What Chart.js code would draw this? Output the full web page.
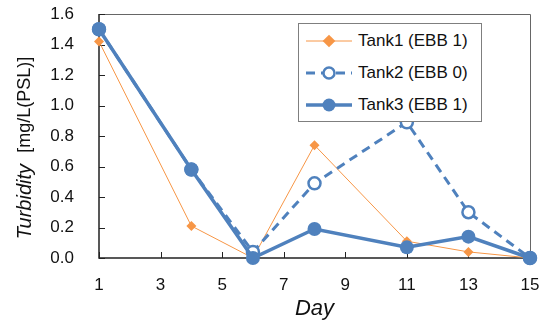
<!DOCTYPE html>
<html>
<head>
<meta charset="utf-8">
<script src="https://cdn.jsdelivr.net/npm/chart.js@4.4.1/dist/chart.umd.min.js"></script>
<style>
  body { margin: 0; background: #fff; }
  #wrap { position: relative; width: 544px; height: 322px; }
  #legend {
    position: absolute; left: 298px; top: 23px; width: 182px; height: 97px;
    border: 1px solid #7f7f7f; background: #fff;
    font-family: "Liberation Sans", sans-serif; font-size: 17px; color: #111;
  }
  .row { position: absolute; left: 6px; height: 24px; display: flex; align-items: center; white-space: nowrap; }
  .row svg { margin-right: 5px; }
</style>
</head>
<body>
<div id="wrap">
  <canvas id="turbidityChart" width="544" height="322"></canvas>
  <div id="legend"></div>
</div>
<script>
const days = [1, 4, 6, 8, 11, 13, 15];
const tank1 = [1.42, 0.21, 0.0, 0.74, 0.11, 0.04, 0.0];
const tank2 = [1.50, 0.58, 0.04, 0.49, 0.89, 0.30, 0.0];
const tank3 = [1.50, 0.58, 0.0, 0.19, 0.07, 0.14, 0.0];
const seriesNames = ['Tank1 (EBB 1)', 'Tank2 (EBB 0)', 'Tank3 (EBB 1)'];
const xTicks = [1, 3, 5, 7, 9, 11, 13, 15];
const yTicks = [0.0, 0.2, 0.4, 0.6, 0.8, 1.0, 1.2, 1.4, 1.6];

const orange = '#F79646';
const blue = '#4F81BD';

function toPoints(values) {
    return days.map((d, i) => ({ x: d, y: values[i] }));
}

// frame, inward ticks and the y title (mixed italic) drawn on the canvas
const framePlugin = {
    id: 'frame',
    beforeDatasetsDraw(chart) {
        const { ctx, chartArea: a, scales } = chart;
        ctx.save();
        ctx.strokeStyle = '#666';
        ctx.lineWidth = 1;
        ctx.beginPath();
        ctx.moveTo(a.left, a.top + 0.5);
        ctx.lineTo(a.right + 0.5, a.top + 0.5);
        ctx.lineTo(a.right + 0.5, a.bottom);
        ctx.stroke();

        ctx.strokeStyle = '#222';
        ctx.lineWidth = 1.5;
        ctx.beginPath();
        ctx.moveTo(a.left, a.top);
        ctx.lineTo(a.left, a.bottom);
        ctx.lineTo(a.right, a.bottom);
        ctx.stroke();

        ctx.lineWidth = 1;
        ctx.beginPath();
        xTicks.forEach(t => {
            const x = Math.round(scales.x.getPixelForValue(t)) + 0.5;
            ctx.moveTo(x, a.bottom);
            ctx.lineTo(x, a.bottom - 6);
        });
        yTicks.forEach(t => {
            const y = Math.round(scales.y.getPixelForValue(t)) + 0.5;
            ctx.moveTo(a.left, y);
            ctx.lineTo(a.left + 6, y);
        });
        ctx.stroke();

        // y axis title
        ctx.translate(25, 148);
        ctx.rotate(-Math.PI / 2);
        ctx.fillStyle = '#111';
        ctx.textBaseline = 'middle';
        const italicFont = 'italic 20px "Liberation Sans", sans-serif';
        const plainFont = '18px "Liberation Sans", sans-serif';
        const p1 = 'Turbidity  ';
        const p2 = '[mg/L(PSL)]';
        ctx.font = italicFont;
        const w1 = ctx.measureText(p1).width;
        ctx.font = plainFont;
        const w2 = ctx.measureText(p2).width;
        let start = -(w1 + w2) / 2;
        ctx.font = italicFont;
        ctx.textAlign = 'left';
        ctx.fillText(p1, start, 0);
        ctx.font = plainFont;
        ctx.fillText(p2, start + w1, 0);
        ctx.restore();
    }
};

const ctx = document.getElementById('turbidityChart').getContext('2d');
const chart = new Chart(ctx, {
    type: 'line',
    data: {
        datasets: [
            {
                label: seriesNames[0],
                data: toPoints(tank1),
                borderColor: orange,
                backgroundColor: orange,
                borderWidth: 1,
                pointStyle: 'rectRot',
                pointRadius: 5,
                pointBorderWidth: 0,
                order: 2
            },
            {
                label: seriesNames[1],
                data: toPoints(tank2),
                borderColor: blue,
                backgroundColor: '#fff',
                borderWidth: 3,
                borderDash: [9, 6],
                pointStyle: 'circle',
                pointRadius: 6,
                pointBorderWidth: 2.5,
                order: 1
            },
            {
                label: seriesNames[2],
                data: toPoints(tank3),
                borderColor: blue,
                backgroundColor: blue,
                borderWidth: 3.5,
                pointStyle: 'circle',
                pointRadius: 7,
                pointBorderWidth: 0,
                order: 0
            }
        ]
    },
    options: {
        responsive: false,
        animation: false,
        layout: { autoPadding: false, padding: { top: 14, right: 14, left: 0, bottom: 0 } },
        plugins: {
            legend: { display: false },
            tooltip: { enabled: false }
        },
        elements: { line: { tension: 0 } },
        clip: false,
        scales: {
            x: {
                type: 'linear',
                min: 1,
                max: 15,
                afterBuildTicks: axis => { axis.ticks = xTicks.map(v => ({ value: v })); },
                afterFit: axis => { axis.height = 64; axis.paddingLeft = 0; axis.paddingRight = 0; },
                grid: { display: false, drawTicks: false },
                border: { display: false },
                ticks: {
                    color: '#111',
                    padding: 17,
                    font: { family: 'Liberation Sans', size: 17 }
                },
                title: {
                    display: true,
                    text: 'Day',
                    color: '#111',
                    padding: { top: -2, bottom: 0 },
                    font: { family: 'Liberation Sans', size: 22, style: 'italic' }
                }
            },
            y: {
                min: 0,
                max: 1.6,
                afterBuildTicks: axis => { axis.ticks = yTicks.map(v => ({ value: v })); },
                afterFit: axis => { axis.width = 99; axis.paddingTop = 0; axis.paddingBottom = 0; },
                grid: { display: false, drawTicks: false },
                border: { display: false },
                ticks: {
                    color: '#111',
                    padding: 25,
                    font: { family: 'Liberation Sans', size: 17 },
                    callback: v => v.toFixed(1)
                }
            }
        }
    },
    plugins: [framePlugin]
});

// legend with line + marker samples
function buildLegend() {
    const legend = document.getElementById('legend');
    const symbols = [
        `<svg width="48" height="16"><line x1="1" y1="8" x2="47" y2="8" stroke="${orange}" stroke-width="1"/>` +
        `<rect x="19.5" y="3.5" width="9" height="9" fill="${orange}" transform="rotate(45 24 8)"/></svg>`,
        `<svg width="48" height="16"><line x1="1" y1="8" x2="47" y2="8" stroke="${blue}" stroke-width="3" stroke-dasharray="9,6"/>` +
        `<circle cx="24" cy="8" r="5.5" fill="#fff" stroke="${blue}" stroke-width="2.5"/></svg>`,
        `<svg width="48" height="16"><line x1="1" y1="8" x2="47" y2="8" stroke="${blue}" stroke-width="3.5"/>` +
        `<circle cx="24" cy="8" r="6.5" fill="${blue}"/></svg>`
    ];
    const tops = [5, 37, 69];
    seriesNames.forEach((name, i) => {
        const row = document.createElement('div');
        row.className = 'row';
        row.style.top = tops[i] + 'px';
        row.innerHTML = symbols[i] + '<span>' + name + '</span>';
        legend.appendChild(row);
    });
}
buildLegend();
</script>
</body>
</html>
